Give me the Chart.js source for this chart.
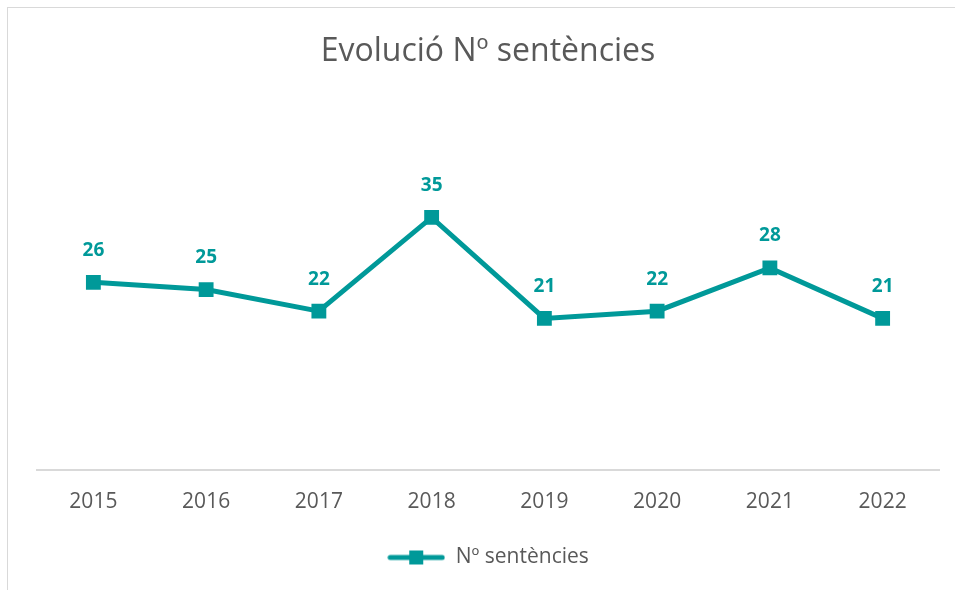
<!DOCTYPE html>
<html>
<head>
<meta charset="utf-8">
<script src="https://cdn.jsdelivr.net/npm/chart.js@4"></script>
<style>
  html, body { margin: 0; padding: 0; background: #fff; overflow: hidden; }
  #frame { position: absolute; left: 7px; top: 7px; width: 1000px; height: 700px; border: 1px solid #d9d9d9; box-sizing: border-box; }
  #wrap { position: absolute; left: 0; top: 0; width: 955px; height: 590px; }
</style>
</head>
<body>
<div id="frame"></div>
<div id="wrap"><canvas id="chart" width="955" height="590"></canvas></div>
<script>
const years = ["2015", "2016", "2017", "2018", "2019", "2020", "2021", "2022"];
const sentencies = [26, 25, 22, 35, 21, 22, 28, 21];
const seriesName = "Nº sentències";
const chartTitle = "Evolució Nº sentències";

const teal = "#009999";
const grey = "#595959";
const fontFamily = "'Open Sans', sans-serif";

// legend symbol: a short line with a square on it, like the Excel legend
const legendIcon = document.createElement("canvas");
legendIcon.width = 58;
legendIcon.height = 16;
(function () {
  const c = legendIcon.getContext("2d");
  c.strokeStyle = teal;
  c.lineWidth = 5;
  c.lineCap = "round";
  c.beginPath();
  c.moveTo(3, 8);
  c.lineTo(55, 8);
  c.stroke();
  c.fillStyle = teal;
  c.fillRect(22, 1, 14, 14);
})();

// draws the value above each point
const valueLabels = {
  id: "valueLabels",
  afterDatasetsDraw(chart) {
    const ctx = chart.ctx;
    const meta = chart.getDatasetMeta(0);
    ctx.save();
    ctx.fillStyle = teal;
    ctx.font = "bold 19px " + fontFamily;
    ctx.textAlign = "center";
    ctx.textBaseline = "middle";
    meta.data.forEach((pt, i) => {
      ctx.fillText(String(sentencies[i]), pt.x, pt.y - 32);
    });
    ctx.restore();
  },
};

new Chart("chart", {
  type: "line",
  data: {
    labels: years,
    datasets: [
      {
        label: seriesName,
        data: sentencies,
        borderColor: teal,
        backgroundColor: teal,
        borderWidth: 5,
        pointStyle: "rect",
        pointRadius: 10.5,
        pointHoverRadius: 10.5,
        pointBackgroundColor: teal,
        pointBorderWidth: 0,
        tension: 0,
        fill: false,
      },
    ],
  },
  options: {
    responsive: false,
    animation: false,
    layout: { padding: { left: 37, right: 16, bottom: 12 } },
    scales: {
      y: { display: false, min: 0, max: 40 },
      x: {
        offset: true,
        grid: { display: false, drawTicks: false },
        border: { color: "#d9d9d9", width: 2 },
        ticks: { color: grey, font: { size: 21, family: fontFamily }, padding: 20 },
      },
    },
    plugins: {
      title: {
        display: true,
        text: chartTitle,
        color: grey,
        font: { size: 32, family: fontFamily, weight: "normal" },
        padding: { top: 33, bottom: 110 },
      },
      legend: {
        position: "bottom",
        labels: {
          usePointStyle: true,
          pointStyle: legendIcon,
          pointStyleWidth: 58,
          boxHeight: 16,
          color: grey,
          font: { size: 21, family: fontFamily },
          padding: 12,
        },
      },
      tooltip: { enabled: false },
    },
  },
  plugins: [valueLabels],
});
</script>
</body>
</html>
